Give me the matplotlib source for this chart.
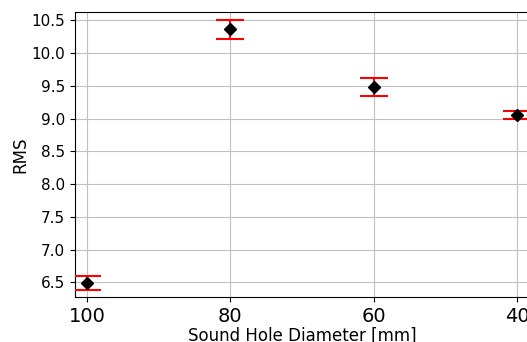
import matplotlib
matplotlib.use("Agg")
import matplotlib.pyplot as plt

diameters = [100, 80, 60, 40]
rms_values = [6.485, 10.36, 9.477, 9.05]
rms_errors = [0.105, 0.14, 0.135, 0.058]
x_ticks = [100, 80, 60, 40]
y_ticks = [6.5, 7.0, 7.5, 8.0, 8.5, 9.0, 9.5, 10.0, 10.5]

fig = plt.figure(figsize=(5.27, 3.42), dpi=100)
ax = fig.add_axes([75/527, 1 - 297/342, (529 - 75)/527, (297 - 12)/342])

ax.errorbar(diameters, rms_values, yerr=rms_errors, fmt='D', color='black',
            ecolor='red', elinewidth=1.5, capsize=10, capthick=1.5,
            markersize=6.2, zorder=3)

ax.set_xlim(101.67, 38.33)
ax.set_ylim(6.276, 10.627)
ax.set_xticks(x_ticks)
ax.set_xticklabels([str(v) for v in x_ticks], fontsize=14)
ax.set_yticks(y_ticks)
ax.set_yticklabels([f"{v:.1f}" for v in y_ticks], fontsize=11)
ax.grid(True, color='#c0c0c0', linewidth=0.8)
ax.set_axisbelow(True)
ax.set_xlabel("Sound Hole Diameter [mm]", fontsize=12, labelpad=0.5)
ax.set_ylabel("RMS", fontsize=12, labelpad=1.8)

fig.savefig("out.png", dpi=100)
